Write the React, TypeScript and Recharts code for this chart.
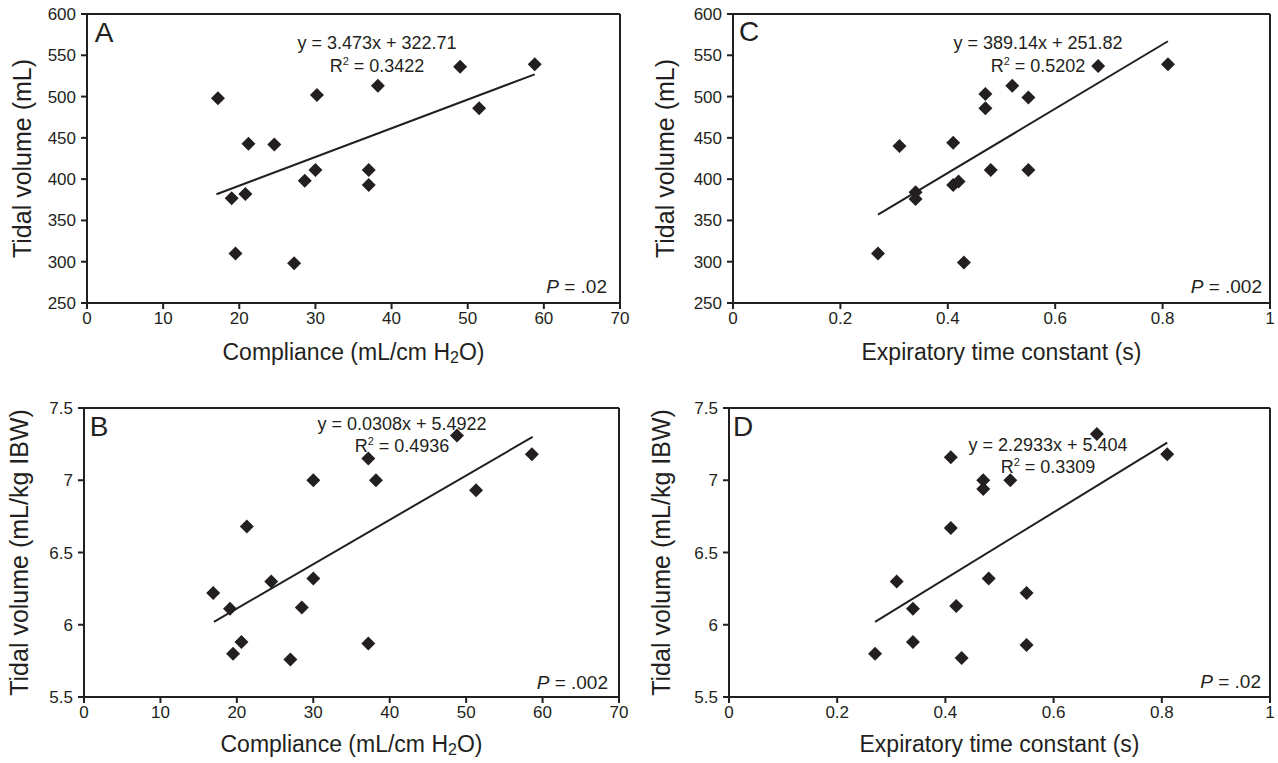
import React from 'react';
import { ScatterChart, Scatter, XAxis, YAxis, ReferenceLine } from 'recharts';

// Compliance (mL/cm H2O) vs tidal volume (mL) -- panel A
const complianceA = [17.2, 19.0, 19.5, 20.8, 21.2, 24.6, 27.2, 28.6, 30.0, 30.2, 37.0, 37.0, 38.2, 49.0, 51.5, 58.8];
const tidalVolA = [498, 377, 310, 382, 443, 442, 298, 398, 411, 502, 411, 393, 513, 536, 486, 539];
const fitA = [{ x: 17, y: 381.7 }, { x: 58.8, y: 526.9 }];

// Compliance vs tidal volume per kg IBW -- panel B
const complianceB = [16.9, 19.1, 19.5, 20.6, 21.3, 24.5, 27.0, 28.5, 30.0, 30.0, 37.2, 37.2, 38.2, 48.8, 51.3, 58.6];
const tidalKgB = [6.22, 6.11, 5.8, 5.88, 6.68, 6.3, 5.76, 6.12, 6.32, 7.0, 7.15, 5.87, 7.0, 7.31, 6.93, 7.18];
const fitB = [{ x: 17, y: 6.02 }, { x: 58.7, y: 7.3 }];

// Expiratory time constant (s) vs tidal volume (mL) -- panel C
const timeConstC = [0.27, 0.31, 0.34, 0.34, 0.41, 0.41, 0.42, 0.43, 0.47, 0.47, 0.48, 0.52, 0.55, 0.55, 0.68, 0.81];
const tidalVolC = [310, 440, 384, 376, 444, 393, 397, 299, 503, 486, 411, 513, 499, 411, 537, 539];
const fitC = [{ x: 0.27, y: 356.9 }, { x: 0.81, y: 567.0 }];

// Expiratory time constant vs tidal volume per kg IBW -- panel D
const timeConstD = [0.27, 0.31, 0.34, 0.34, 0.41, 0.41, 0.42, 0.43, 0.47, 0.47, 0.48, 0.52, 0.55, 0.55, 0.68, 0.81];
const tidalKgD = [5.8, 6.3, 6.11, 5.88, 7.16, 6.67, 6.13, 5.77, 7.0, 6.94, 6.32, 7.0, 6.22, 5.86, 7.32, 7.18];
const fitD = [{ x: 0.27, y: 6.02 }, { x: 0.81, y: 7.26 }];

const complianceTicks = [0, 10, 20, 30, 40, 50, 60, 70];
const timeTicks = [0, 0.2, 0.4, 0.6, 0.8, 1];
const mlTicks = [250, 300, 350, 400, 450, 500, 550, 600];
const kgTicks = [5.5, 6, 6.5, 7, 7.5];

const INK = '#231f20';
const FONT = "'Liberation Sans', Arial, sans-serif";

const toPoints = (xs: number[], ys: number[]) => xs.map((x, i) => ({ x, y: ys[i] }));

// filled diamond marker
function Diamond(props: any) {
    const { cx, cy } = props;
    const r = 7;
    return <path d={`M${cx},${cy - r}L${cx + r},${cy}L${cx},${cy + r}L${cx - r},${cy}Z`} fill={INK} />;
}

function Panel(props: any) {
    const {
        left, top, width, height, margin, yWidth, xHeight,
        xTicks, yTicks, points, fit, xTitle, yTitle, yTitleX, xTitleY,
    } = props;
    const xMax = xTicks[xTicks.length - 1];
    const yMax = yTicks[yTicks.length - 1];
    return (
        <div style={{ position: 'absolute', left, top }}>
            <ScatterChart width={width} height={height} margin={margin}>
                <XAxis
                    type="number"
                    dataKey="x"
                    domain={[xTicks[0], xMax]}
                    ticks={xTicks}
                    interval={0}
                    height={xHeight}
                    axisLine={{ stroke: INK, strokeWidth: 2 }}
                    tickLine={{ stroke: INK, strokeWidth: 2 }}
                    tickSize={6}
                    tickMargin={3}
                    tick={{ fill: INK, fontSize: 17, fontFamily: FONT }}
                    label={(p: any) => {
                        const vb = p.viewBox;
                        return (
                            <text x={vb.x + vb.width / 2} y={xTitleY} textAnchor="middle" dominantBaseline="middle"
                                fill={INK} fontSize={23} fontFamily={FONT}>
                                {xTitle}
                            </text>
                        );
                    }}
                />
                <YAxis
                    type="number"
                    dataKey="y"
                    domain={[yTicks[0], yMax]}
                    ticks={yTicks}
                    interval={0}
                    width={yWidth}
                    axisLine={{ stroke: INK, strokeWidth: 2 }}
                    tickLine={{ stroke: INK, strokeWidth: 2 }}
                    tickSize={6}
                    tickMargin={5}
                    tick={{ fill: INK, fontSize: 17, fontFamily: FONT }}
                    label={(p: any) => {
                        const vb = p.viewBox;
                        const cy = vb.y + vb.height / 2;
                        return (
                            <text x={yTitleX} y={cy} textAnchor="middle" dominantBaseline="middle"
                                transform={`rotate(-90 ${yTitleX} ${cy})`} fill={INK} fontSize={25} fontFamily={FONT}>
                                {yTitle}
                            </text>
                        );
                    }}
                />
                <ReferenceLine y={yMax} stroke={INK} strokeWidth={2} />
                <ReferenceLine x={xMax} stroke={INK} strokeWidth={2} />
                <Scatter data={points} shape={<Diamond />} isAnimationActive={false} />
                <Scatter data={fit} line={{ stroke: INK, strokeWidth: 2 }} shape={() => <g />} isAnimationActive={false} />
            </ScatterChart>
        </div>
    );
}

// texts drawn over the plots (panel letter, fit equation, P value)
function Note({ x, y, size, align = 'center', children }: any) {
    const shift = align === 'right' ? '-100%' : '-50%';
    return (
        <div style={{
            position: 'absolute', left: x, top: y, transform: `translate(${shift}, -50%)`,
            fontFamily: FONT, fontSize: size, color: INK, whiteSpace: 'nowrap', lineHeight: 1,
        }}>
            {children}
        </div>
    );
}

const h2o = (label: string) => (
    <>
        <tspan>{label} (mL/cm H</tspan>
        <tspan dy={5} fontSize={16}>2</tspan>
        <tspan dy={-5}>O)</tspan>
    </>
);

const sup2 = <sup style={{ fontSize: 11 }}>2</sup>;

export default function App() {
    return (
        <div style={{ position: 'absolute', left: 0, top: 0, width: 1278, height: 763, background: '#fff', overflow: 'hidden' }}>
            <Panel
                left={0} top={0} width={640} height={380}
                margin={{ top: 14, right: 20, left: 0, bottom: 0 }} yWidth={87} xHeight={77}
                xTicks={complianceTicks} yTicks={mlTicks}
                points={toPoints(complianceA, tidalVolA)} fit={fitA}
                xTitle={h2o('Compliance')} yTitle="Tidal volume (mL)" yTitleX={24} xTitleY={354}
            />
            <Panel
                left={640} top={0} width={638} height={380}
                margin={{ top: 14, right: 8, left: 0, bottom: 0 }} yWidth={93} xHeight={77}
                xTicks={timeTicks} yTicks={mlTicks}
                points={toPoints(timeConstC, tidalVolC)} fit={fitC}
                xTitle="Expiratory time constant (s)" yTitle="Tidal volume (mL)" yTitleX={27} xTitleY={354}
            />
            <Panel
                left={0} top={380} width={640} height={383}
                margin={{ top: 28, right: 21, left: 0, bottom: 0 }} yWidth={84} xHeight={66}
                xTicks={complianceTicks} yTicks={kgTicks}
                points={toPoints(complianceB, tidalKgB)} fit={fitB}
                xTitle={h2o('Compliance')} yTitle="Tidal volume (mL/kg IBW)" yTitleX={21} xTitleY={366}
            />
            <Panel
                left={640} top={380} width={638} height={383}
                margin={{ top: 28, right: 8, left: 0, bottom: 0 }} yWidth={89} xHeight={66}
                xTicks={timeTicks} yTicks={kgTicks}
                points={toPoints(timeConstD, tidalKgD)} fit={fitD}
                xTitle="Expiratory time constant (s)" yTitle="Tidal volume (mL/kg IBW)" yTitleX={23} xTitleY={366}
            />

            {/* panel A */}
            <Note x={104} y={33} size={28}>A</Note>
            <Note x={377} y={43} size={18}>y = 3.473x + 322.71</Note>
            <Note x={377} y={65} size={18}>R{sup2} = 0.3422</Note>
            <Note x={607} y={286} size={19} align="right"><i>P</i> = .02</Note>

            {/* panel C */}
            <Note x={749} y={32} size={28}>C</Note>
            <Note x={1038} y={43} size={18}>y = 389.14x + 251.82</Note>
            <Note x={1038} y={65} size={18}>R{sup2} = 0.5202</Note>
            <Note x={1262} y={286} size={19} align="right"><i>P</i> = .002</Note>

            {/* panel B */}
            <Note x={99} y={427} size={28}>B</Note>
            <Note x={402} y={424} size={18}>y = 0.0308x + 5.4922</Note>
            <Note x={402} y={445} size={18}>R{sup2} = 0.4936</Note>
            <Note x={608} y={682} size={19} align="right"><i>P</i> = .002</Note>

            {/* panel D */}
            <Note x={743} y={427} size={28}>D</Note>
            <Note x={1048} y={445} size={18}>y = 2.2933x + 5.404</Note>
            <Note x={1048} y={466} size={18}>R{sup2} = 0.3309</Note>
            <Note x={1261} y={681} size={19} align="right"><i>P</i> = .02</Note>
        </div>
    );
}
